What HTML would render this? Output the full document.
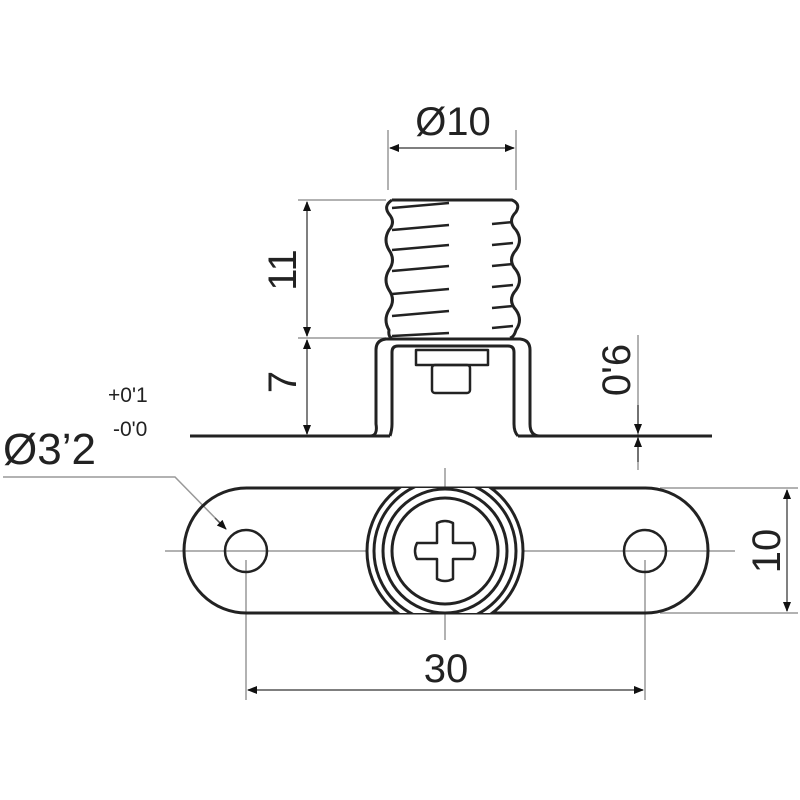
<!DOCTYPE html>
<html><head><style>body{margin:0;background:#fff}svg{display:block}</style></head><body>
<svg width="800" height="800" viewBox="0 0 800 800" xmlns="http://www.w3.org/2000/svg" font-family="Liberation Sans, sans-serif">
<defs>
<marker id="a" markerWidth="10" markerHeight="10" refX="9" refY="4" orient="auto-start-reverse" markerUnits="userSpaceOnUse"><path d="M0,0 L10,4 L0,8 Z" fill="#111"/></marker>
<clipPath id="pl"><rect x="184" y="488" width="524" height="125"/></clipPath>
</defs>
<g stroke="#999" stroke-width="1.5" fill="none">
<line x1="388" y1="130" x2="388" y2="190"/><line x1="516" y1="130" x2="516" y2="190"/>
<line x1="298" y1="200" x2="386" y2="200"/><line x1="298" y1="338" x2="386" y2="338"/>
<line x1="638" y1="335" x2="638" y2="470"/>
<line x1="660" y1="488" x2="798" y2="488"/><line x1="660" y1="613" x2="798" y2="613"/>
<line x1="246" y1="560" x2="246" y2="700"/><line x1="645" y1="560" x2="645" y2="700"/>
<line x1="165" y1="551" x2="735" y2="551"/><line x1="445" y1="468" x2="445" y2="640"/>
<polyline points="3,477 175,477 224,527"/>
</g>
<g stroke="#555" stroke-width="1.5" fill="none">
<line x1="390" y1="148" x2="514" y2="148" marker-start="url(#a)" marker-end="url(#a)"/>
<line x1="307" y1="202" x2="307" y2="336" marker-start="url(#a)" marker-end="url(#a)"/>
<line x1="307" y1="340" x2="307" y2="434" marker-start="url(#a)" marker-end="url(#a)"/>
<line x1="638" y1="405" x2="638" y2="433" marker-end="url(#a)"/>
<line x1="638" y1="462" x2="638" y2="438" marker-end="url(#a)"/>
<line x1="787" y1="490" x2="787" y2="611" marker-start="url(#a)" marker-end="url(#a)"/>
<line x1="248" y1="690" x2="643" y2="690" marker-start="url(#a)" marker-end="url(#a)"/>
<line x1="215" y1="518" x2="226" y2="529" marker-end="url(#a)"/>
</g>
<g stroke="#222" stroke-width="3" fill="none" stroke-linejoin="round">
<path d="M190,436 H380 M525,436 H712"/>
<path d="M370,436 Q378,436 376,424 V350 Q376,340 386,339 H520 Q530,340 530,350 V424 Q530,436 540,436"/>
<path d="M390,436 Q392,430 392,424 V352 Q392,346 398,346 H508 Q514,346 514,352 V424 Q514,432 518,436"/>
<path d="M380,436 H390 M518,436 H528"/>
<rect x="416" y="350" width="72" height="15" stroke-width="2.5"/>
<rect x="432" y="365" width="38" height="28" rx="3" stroke-width="2.5"/>
<path d="M392,200 H512 Q521,204 516,212 Q507,221 516,230 Q523,240 516,250 Q507,260 516,270 Q523,280 516,290 Q507,300 516,310 Q523,320 516,330 Q514,337 510,338 M392,200 Q383,206 389,214 Q396,222 389,230 Q383,240 389,250 Q396,260 389,270 Q383,280 389,290 Q396,300 389,310 Q383,320 389,330 Q388,337 392,338"/>
<g stroke-width="2.5">
<line x1="392" y1="208" x2="449" y2="203"/>
<line x1="392" y1="230" x2="449" y2="225"/>
<line x1="392" y1="250" x2="449" y2="245"/>
<line x1="392" y1="271" x2="449" y2="266"/>
<line x1="392" y1="294" x2="449" y2="289"/>
<line x1="392" y1="316" x2="449" y2="311"/>
<line x1="392" y1="336" x2="449" y2="333"/>
<line x1="492" y1="224" x2="513" y2="222"/>
<line x1="492" y1="245" x2="513" y2="243"/>
<line x1="492" y1="266" x2="513" y2="264"/>
<line x1="492" y1="287" x2="513" y2="285"/>
<line x1="492" y1="308" x2="513" y2="306"/>
<line x1="492" y1="328" x2="513" y2="326"/>
</g>
<rect x="184" y="488" width="524" height="125" rx="62.5"/>
<circle cx="246" cy="551" r="21" stroke-width="2.5"/>
<circle cx="645" cy="551" r="21" stroke-width="2.5"/>
<g clip-path="url(#pl)">
<circle cx="445" cy="551" r="78" fill="#fff"/>
<circle cx="445" cy="551" r="71"/>
</g>
<circle cx="445" cy="551" r="62"/>
<circle cx="445" cy="551" r="53"/>
<path d="M437,523 Q445,519 453,523 V543 H473 Q477,551 473,559 H453 V579 Q445,583 437,579 V559 H417 Q413,551 417,543 H437 Z" stroke-width="2.5"/>
</g>
<g fill="#222">
<text x="453" y="135" font-size="40" text-anchor="middle">Ø10</text>
<text transform="translate(296,270) rotate(-90)" font-size="40" text-anchor="middle">11</text>
<text transform="translate(296,382) rotate(-90)" font-size="40" text-anchor="middle">7</text>
<text transform="translate(630,370) rotate(-90)" font-size="40" text-anchor="middle">0'6</text>
<text transform="translate(780,551) rotate(-90)" font-size="40" text-anchor="middle">10</text>
<text x="446" y="682" font-size="40" text-anchor="middle">30</text>
<text x="3" y="464" font-size="44">Ø3’2</text>
<text x="108" y="402" font-size="21">+0'1</text>
<text x="113" y="436" font-size="21">-0'0</text>
</g>
</svg>
</body></html>
